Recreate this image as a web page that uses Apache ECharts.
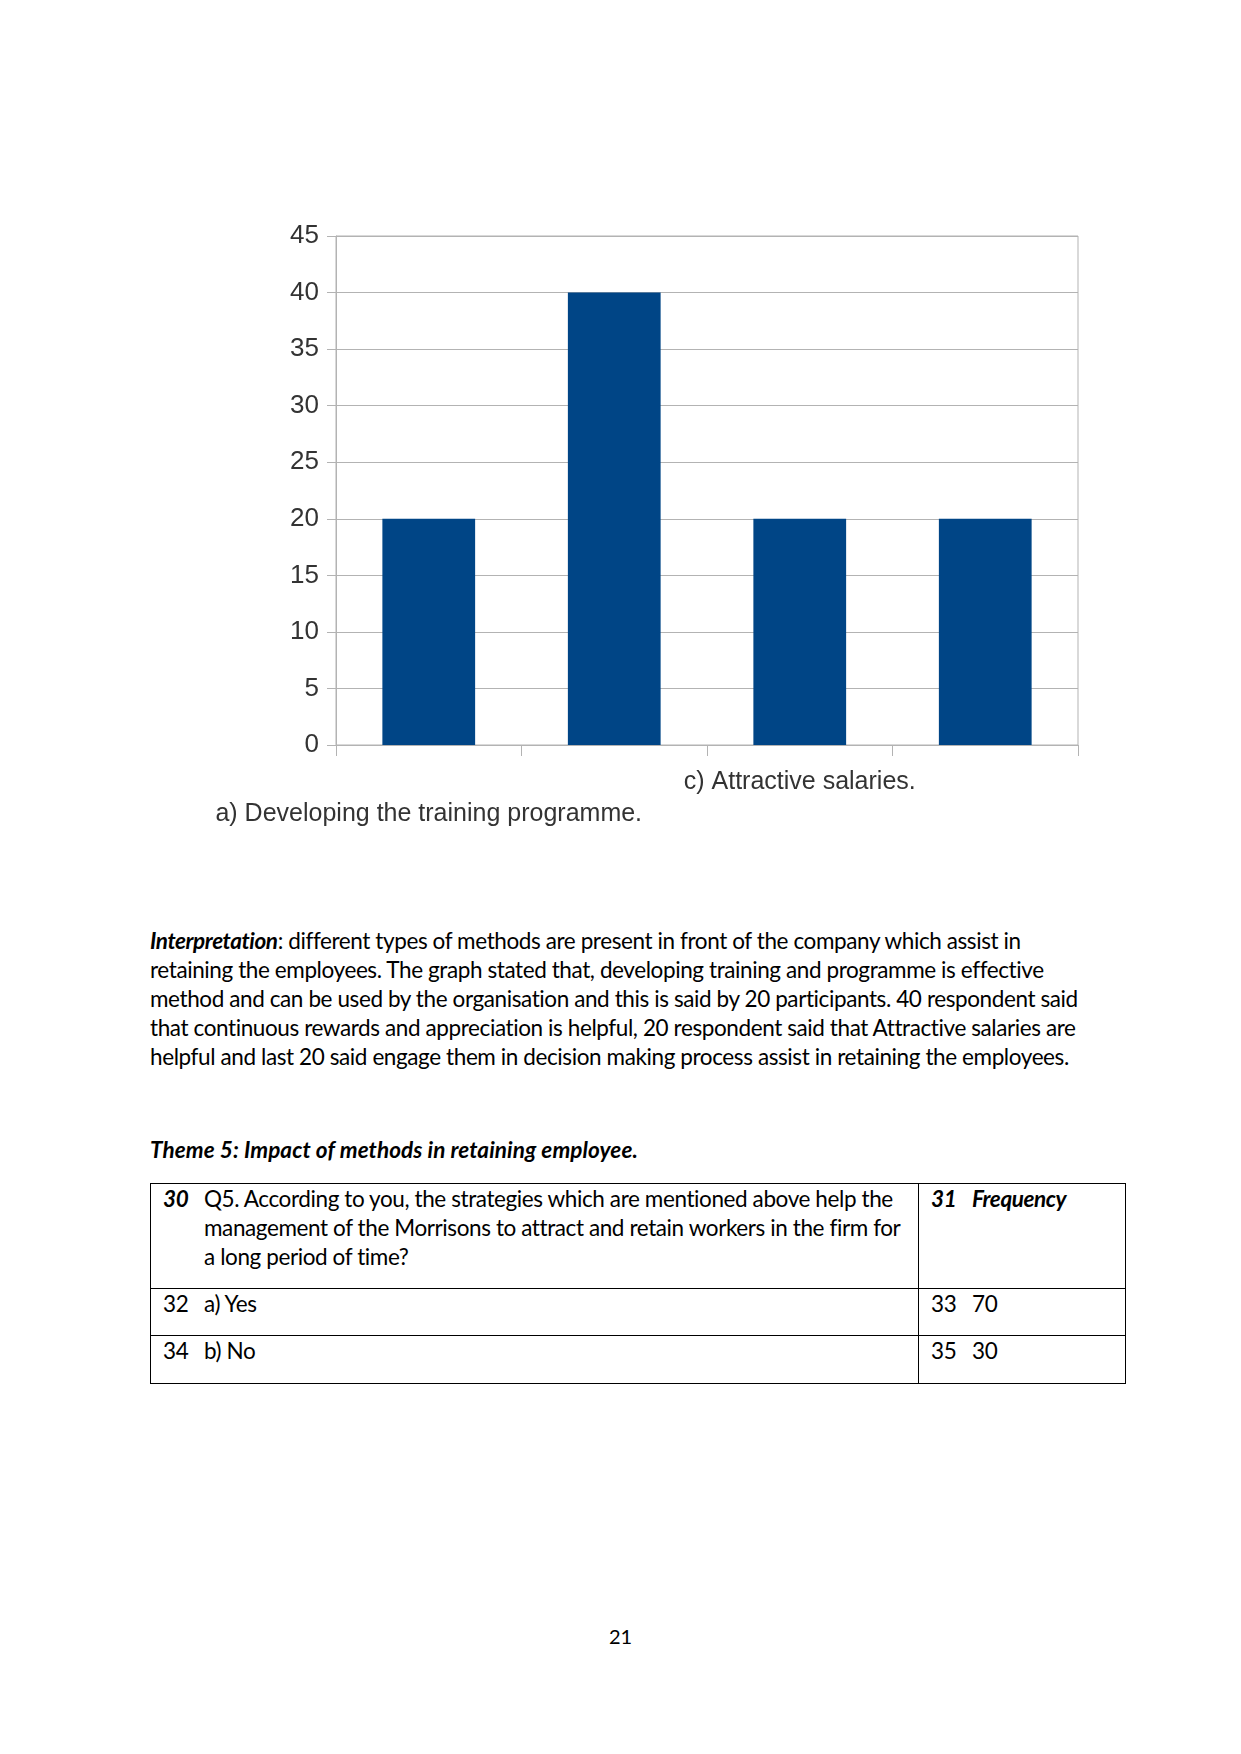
<!DOCTYPE html>
<html>
<head>
<meta charset="utf-8">
<script src="https://cdn.jsdelivr.net/npm/echarts@6/dist/echarts.min.js"></script>
<style>
  html, body { margin: 0; padding: 0; background: #fff; }
  body { width: 1241px; height: 1754px; position: relative; overflow: hidden; font-family: Lato, Carlito, "Open Sans", sans-serif; color: #000; }
  #chart { position: absolute; left: 0; top: 0; width: 1241px; height: 880px; }
  .para { position: absolute; left: 150px; top: 926px; width: 1000px; font-size: 22.5px; line-height: 29px; letter-spacing: -0.4px; white-space: nowrap; }
  .theme { position: absolute; left: 150px; top: 1136px; font-size: 22.5px; font-weight: bold; font-style: italic; letter-spacing: 0.1px; }
  table { position: absolute; left: 150px; top: 1183px; width: 976px; border-collapse: collapse; font-size: 22.5px; line-height: 29px; letter-spacing: -0.4px; }
  td { border: 1.5px solid #000; vertical-align: top; padding: 0; }
  .num { display: inline-block; width: 41px; flex: none; }
  .cell { display: flex; padding: 0 0 0 12px; white-space: nowrap; }
  .page { position: absolute; left: 0; width: 1241px; top: 1624px; text-align: center; font-size: 20px; }
</style>
</head>
<body>
<div id="chart"></div>
<div class="para"><b><i>Interpretation</i></b>: different types of methods are present in front of the company which assist in<br>retaining the employees. The graph stated that, developing training and programme is effective<br>method and can be used by the organisation and this is said by 20 participants. 40 respondent said<br>that continuous rewards and appreciation is helpful, 20 respondent said that Attractive salaries are<br>helpful and last 20 said engage them in decision making process assist in retaining the employees.</div>
<div class="theme">Theme 5: Impact of methods in retaining employee.</div>
<table>
  <tr style="height:105px">
    <td style="width:767px"><div class="cell"><span class="num"><b><i>30</i></b></span><span>Q5. According to you, the strategies which are mentioned above help the<br>management of the Morrisons to attract and retain workers in the firm for<br>a long period of time?</span></div></td>
    <td><div class="cell"><span class="num"><b><i>31</i></b></span><b><i>Frequency</i></b></div></td>
  </tr>
  <tr style="height:47px">
    <td><div class="cell"><span class="num">32</span>a) Yes</div></td>
    <td><div class="cell"><span class="num">33</span>70</div></td>
  </tr>
  <tr style="height:48px">
    <td><div class="cell"><span class="num">34</span>b) No</div></td>
    <td><div class="cell"><span class="num">35</span>30</div></td>
  </tr>
</table>
<div class="page">21</div>
<script>
const categories = [
  'a) Developing the training programme.',
  'b) Continuous rewards and appreciation.',
  'c) Attractive salaries.',
  'd) Engage them in decision making process.'
];
const values = [20, 40, 20, 20];
const yTicks = { min: 0, max: 45, interval: 5 };

const fontNarrow = "'Liberation Sans Narrow', 'Arial Narrow', 'Liberation Sans', sans-serif";
const chart = echarts.init(document.getElementById('chart'), null, { renderer: 'canvas' });
chart.setOption({
  animation: false,
  grid: { left: 336, right: 163, top: 236, bottom: 135, show: true, borderColor: '#b3b3b3', borderWidth: 1 },
  xAxis: {
    type: 'category',
    data: categories,
    boundaryGap: true,
    axisLine: { show: true, lineStyle: { color: '#b3b3b3', width: 1 } },
    axisTick: { show: true, interval: 0, length: 11, lineStyle: { color: '#b3b3b3' } },
    axisLabel: {
      interval: 0,
      margin: 25,
      color: '#333',
      fontFamily: fontNarrow,
      fontSize: 25,
      formatter: function (v, i) {
        if (i === 0) return '{low|' + v + '}';
        if (i === 2) return '{high|' + v + '}';
        return '';
      },
      rich: {
        low: { fontFamily: fontNarrow, fontSize: 25, color: '#333', padding: [32, 0, 0, 0] },
        high: { fontFamily: fontNarrow, fontSize: 25, color: '#333' }
      }
    },
    splitLine: { show: false }
  },
  yAxis: {
    type: 'value',
    min: yTicks.min,
    max: yTicks.max,
    interval: yTicks.interval,
    axisLine: { show: true, lineStyle: { color: '#b3b3b3' } },
    axisTick: { show: true, length: 9, lineStyle: { color: '#b3b3b3' } },
    axisLabel: { color: '#333', fontFamily: fontNarrow, fontSize: 26, margin: 17 },
    splitLine: { show: true, lineStyle: { color: '#b3b3b3', width: 1 } }
  },
  series: [{
    type: 'bar',
    data: values,
    barCategoryGap: '50%',
    itemStyle: { color: '#004586' }
  }]
});
</script>
</body>
</html>
